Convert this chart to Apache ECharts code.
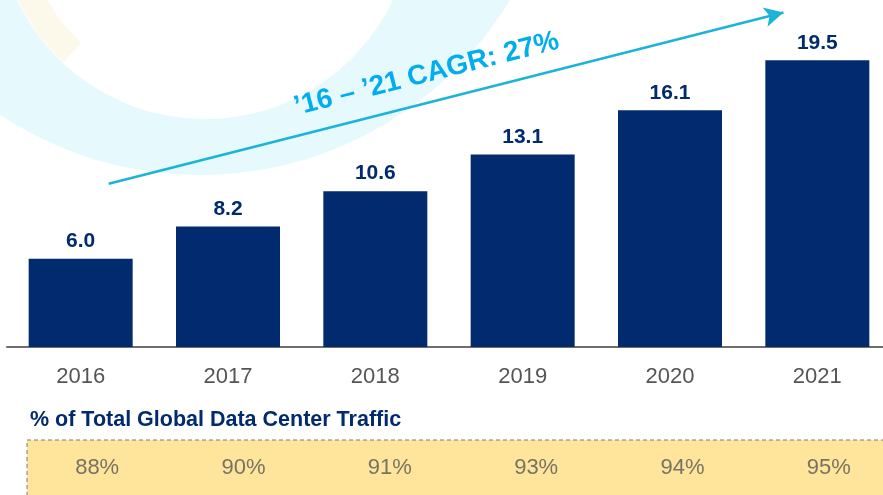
<!DOCTYPE html>
<html>
<head>
<meta charset="utf-8">
<script src="https://cdn.jsdelivr.net/npm/echarts@6/dist/echarts.min.js"></script>
<style>
  html, body { margin: 0; padding: 0; background: #fff; overflow: hidden; }
  /* the plot runs a few pixels past the right edge of the window, as in the reference */
  #chart { width: 905px; height: 495px; }
</style>
</head>
<body>
<div id="chart"></div>
<script>
// values
const years      = ['2016', '2017', '2018', '2019', '2020', '2021']
const traffic    = [6.0, 8.2, 10.6, 13.1, 16.1, 19.5]
const sharePct   = [88, 90, 91, 93, 94, 95]
const cagrLabel  = '\u201916 \u2013 \u201921 CAGR: 27%'
// arrow end points in [category position, value] space
const cagrArrow  = [[0.19, 11.1], [4.77, 22.75]]
const tableTitle = '% of Total Global Data Center Traffic'

const NAVY = '#012b6e'
const GREY = '#555555'
const CYAN = '#1bb4d8'
const FONT = '"Liberation Sans", Arial, sans-serif'

const chart = echarts.init(document.getElementById('chart'), null, { renderer: 'canvas' })

chart.setOption({
  backgroundColor: '#fff',
  animation: false,
  textStyle: { fontFamily: FONT },
  title: {
    text: tableTitle, left: 30, top: 409, padding: 0,
    textStyle: { color: NAVY, fontSize: 21.5, fontWeight: 'bold', fontFamily: FONT },
  },
  graphic: [
    // faint decorative swoosh behind the chart (crescent = outer disc minus inner disc)
    {
      type: 'circle', z: -12, silent: true,
      shape: { cx: 200, cy: -187, r: 362 },
      style: { fill: '#e6f9fc' },
    },
    {
      type: 'circle', z: -11, silent: true,
      shape: { cx: 205, cy: -89, r: 208 },
      style: { fill: '#ffffff' },
    },
    {
      type: 'arc', z: -10, silent: true,
      shape: { cx: 205, cy: -89, r: 194, startAngle: Math.PI * 0.74, endAngle: Math.PI * 0.92 },
      style: { stroke: '#fdf9ea', lineWidth: 26, fill: null },
    },
    // yellow table band
    {
      type: 'rect', z: -5, silent: true,
      shape: { x: 27, y: 440, width: 900, height: 80 },
      style: { fill: '#ffe59b', stroke: '#7a7a7a', lineWidth: 1, lineDash: [4, 3] },
    },
  ],
  grid: [
    { left: 7, top: 0, width: 884, height: 347 },
    { left: 24, top: 440, width: 878, height: 68 },
  ],
  xAxis: [
    {
      type: 'category', data: years, gridIndex: 0,
      axisLine: { lineStyle: { color: '#6e6e6e', width: 2 } },
      axisTick: { show: false },
      axisLabel: { color: GREY, fontSize: 22, margin: 19, fontFamily: FONT },
    },
    { type: 'value', gridIndex: 0, min: -0.5, max: 5.5, show: false },
    { type: 'category', data: years, gridIndex: 1, show: false },
  ],
  yAxis: [
    { type: 'value', gridIndex: 0, min: 0, max: 23.6, show: false },
    { type: 'value', gridIndex: 1, min: -1, max: 1, show: false },
  ],
  series: [
    {
      type: 'bar', data: traffic, xAxisIndex: 0, yAxisIndex: 0,
      barWidth: 104,
      itemStyle: { color: NAVY },
      label: {
        show: true, position: 'top', distance: 7,
        color: NAVY, fontSize: 21, fontWeight: 'bold', fontFamily: FONT,
        formatter: (p) => p.value.toFixed(1),
      },
    },
    {
      // carrier for the CAGR arrow
      type: 'line', xAxisIndex: 1, yAxisIndex: 0,
      data: cagrArrow, showSymbol: false, silent: true,
      lineStyle: { opacity: 0 },
      markLine: {
        silent: true, animation: false,
        symbol: ['none', 'arrow'], symbolSize: [15, 19],
        lineStyle: { color: CYAN, width: 2.5, type: 'solid' },
        label: {
          show: true, position: 'middle', distance: 14,
          padding: [0, 26, 0, 0],
          formatter: cagrLabel,
          color: '#00aeef', fontSize: 28, fontWeight: 'bold', fontFamily: FONT,
        },
        data: [[{ coord: cagrArrow[0] }, { coord: cagrArrow[1] }]],
      },
    },
    {
      type: 'scatter', xAxisIndex: 2, yAxisIndex: 1,
      data: sharePct.map(() => 0), symbolSize: 0, silent: true,
      label: {
        show: true, position: 'inside',
        color: GREY, fontSize: 22, fontFamily: FONT,
        formatter: (p) => sharePct[p.dataIndex] + '%',
      },
    },
  ],
})
</script>
</body>
</html>
